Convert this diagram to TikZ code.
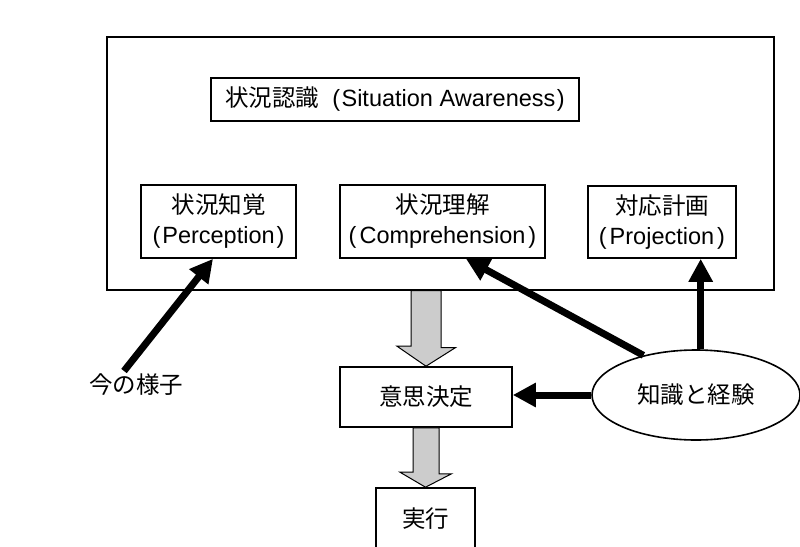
\documentclass[tikz,border=0pt]{standalone}
\usepackage{fontspec}
\setmainfont{Liberation Sans}
\newfontfamily\jp{Noto Sans CJK JP}
\newcommand\jpt[1]{{\jp #1}}
\usetikzlibrary{arrows.meta,shapes.geometric,calc}
\begin{document}
\begin{tikzpicture}[x=1pt,y=-1pt,
 txt/.style={font=\fontsize{23.5}{30}\selectfont,align=center},
 box/.style={txt,draw,line width=1.6pt,rectangle,inner sep=0pt},
 bigarrow/.style={line width=7pt,-{Triangle[length=23pt,width=23pt]}},
 grayarr/.style={draw=black,line width=1pt,fill=black!20}]
\useasboundingbox (0,0) rectangle (800,546);
\fill[white] (0,0) rectangle (800,546);
% frame
\node[draw,line width=1.2pt,rectangle,inner sep=0pt,minimum width=667pt,minimum height=253pt] (outer) at (440.5,163.5) {};
\node[box,minimum width=368pt,minimum height=43pt] (title) at (395,99.5) {\jpt{状況認識}\hspace{13pt}(\hspace{1.5pt}Situation Awareness\hspace{1.5pt})};
\node[box,minimum width=155pt,minimum height=73pt] (perc) at (218.5,221.5) {\jpt{状況知覚}\\(\hspace{2pt}Perception\hspace{2pt})};
\node[box,minimum width=205pt,minimum height=73pt] (comp) at (442.5,221.5) {\jpt{状況理解}\\(\hspace{3pt}Comprehension\hspace{3pt})};
\node[box,minimum width=148pt,minimum height=72pt] (proj) at (662,222) {\jpt{対応計画}\\(\hspace{3pt}Projection\hspace{3pt})};
% lower part
\node[box,minimum width=172pt,minimum height=60pt] (decide) at (426,397) {\jpt{意思決定}};
\node[box,minimum width=99pt,minimum height=61pt] (exec) at (425.5,518.5) {\jpt{実行}};
\node[txt,ellipse,draw,line width=1.6pt,inner sep=0pt,minimum width=208pt,minimum height=90pt] (ell) at (696,395) {\jpt{知識と経験}};
\node[txt,inner sep=0pt] (now) at (136,385) {\jpt{今の様子}};
% gray arrows
\draw[grayarr] ($(outer.south -| decide.north)+(-15,0)$) -- ++(30,0) -- ++(0,57) -- ++(14.5,0) -- (decide.north) -- ++(-29,-20) -- ++(14,0) -- cycle;
\draw[grayarr] ($(decide.south)+(-13,0)$) -- ++(26,0) -- ++(0,46) -- ++(12.5,0) -- (exec.north) -- ++(-25.5,-15) -- ++(13,0) -- cycle;
% black arrows
\coordinate (nowstart) at (124,371);
\coordinate (perctip) at ($(perc.south)+(-5.5,0)$);
\coordinate (comptip) at ($(comp.south)+(23.5,0)$);
\coordinate (projtip) at ($(proj.south)+(38.7,0)$);
\draw[bigarrow] (nowstart) -- (perctip);
\draw[bigarrow] (ell.143.7) -- (comptip);
\draw[bigarrow] (ell.north -| projtip) -- (projtip);
\draw[bigarrow] (ell.west) -- (ell.west -| decide.east);
\end{tikzpicture}
\end{document}
